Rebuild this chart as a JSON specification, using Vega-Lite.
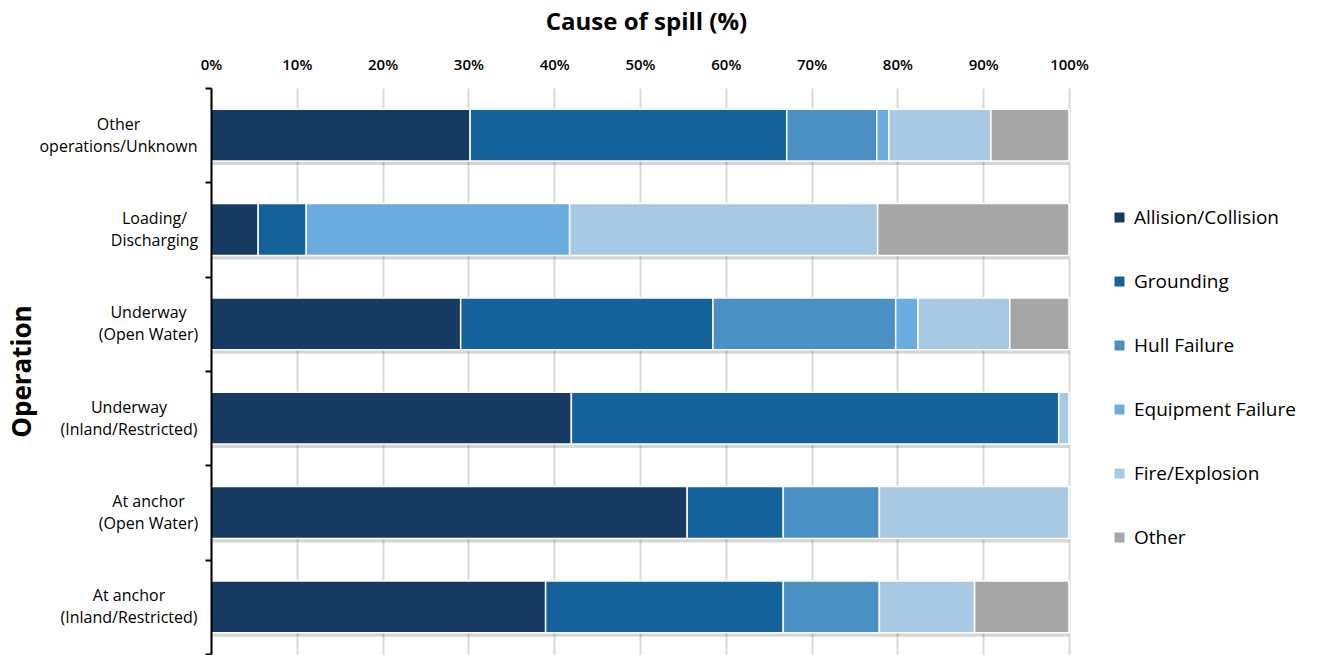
{
  "$schema": "https://vega.github.io/schema/vega-lite/v6.json",
  "width": 858,
  "height": 566,
  "autosize": {"type": "none"},
  "padding": {"left": 211, "top": 88, "right": 250, "bottom": 1},
  "background": "white",
  "config": {
    "view": {"stroke": null},
    "font": "Open Sans"
  },
  "data": {
    "values": [
      {"operation": "Other|operations/Unknown", "cause": "Allision/Collision", "rank": 1, "pct": 30.2},
      {"operation": "Other|operations/Unknown", "cause": "Grounding", "rank": 2, "pct": 36.9},
      {"operation": "Other|operations/Unknown", "cause": "Hull Failure", "rank": 3, "pct": 10.5},
      {"operation": "Other|operations/Unknown", "cause": "Equipment Failure", "rank": 4, "pct": 1.4},
      {"operation": "Other|operations/Unknown", "cause": "Fire/Explosion", "rank": 5, "pct": 11.9},
      {"operation": "Other|operations/Unknown", "cause": "Other", "rank": 6, "pct": 9.1},
      {"operation": "Loading/|Discharging", "cause": "Allision/Collision", "rank": 1, "pct": 5.5},
      {"operation": "Loading/|Discharging", "cause": "Grounding", "rank": 2, "pct": 5.6},
      {"operation": "Loading/|Discharging", "cause": "Equipment Failure", "rank": 4, "pct": 30.7},
      {"operation": "Loading/|Discharging", "cause": "Fire/Explosion", "rank": 5, "pct": 35.9},
      {"operation": "Loading/|Discharging", "cause": "Other", "rank": 6, "pct": 22.3},
      {"operation": "Underway|(Open Water)", "cause": "Allision/Collision", "rank": 1, "pct": 29.1},
      {"operation": "Underway|(Open Water)", "cause": "Grounding", "rank": 2, "pct": 29.4},
      {"operation": "Underway|(Open Water)", "cause": "Hull Failure", "rank": 3, "pct": 21.3},
      {"operation": "Underway|(Open Water)", "cause": "Equipment Failure", "rank": 4, "pct": 2.6},
      {"operation": "Underway|(Open Water)", "cause": "Fire/Explosion", "rank": 5, "pct": 10.7},
      {"operation": "Underway|(Open Water)", "cause": "Other", "rank": 6, "pct": 6.9},
      {"operation": "Underway|(Inland/Restricted)", "cause": "Allision/Collision", "rank": 1, "pct": 42.0},
      {"operation": "Underway|(Inland/Restricted)", "cause": "Grounding", "rank": 2, "pct": 56.8},
      {"operation": "Underway|(Inland/Restricted)", "cause": "Fire/Explosion", "rank": 5, "pct": 1.2},
      {"operation": "At anchor|(Open Water)", "cause": "Allision/Collision", "rank": 1, "pct": 55.5},
      {"operation": "At anchor|(Open Water)", "cause": "Grounding", "rank": 2, "pct": 11.2},
      {"operation": "At anchor|(Open Water)", "cause": "Hull Failure", "rank": 3, "pct": 11.2},
      {"operation": "At anchor|(Open Water)", "cause": "Fire/Explosion", "rank": 5, "pct": 22.1},
      {"operation": "At anchor|(Inland/Restricted)", "cause": "Allision/Collision", "rank": 1, "pct": 39.0},
      {"operation": "At anchor|(Inland/Restricted)", "cause": "Grounding", "rank": 2, "pct": 27.7},
      {"operation": "At anchor|(Inland/Restricted)", "cause": "Hull Failure", "rank": 3, "pct": 11.2},
      {"operation": "At anchor|(Inland/Restricted)", "cause": "Fire/Explosion", "rank": 5, "pct": 11.1},
      {"operation": "At anchor|(Inland/Restricted)", "cause": "Other", "rank": 6, "pct": 11.0}
    ]
  },
  "encoding": {
    "y": {
      "field": "operation",
      "type": "nominal",
      "sort": ["Other|operations/Unknown", "Loading/|Discharging", "Underway|(Open Water)", "Underway|(Inland/Restricted)", "At anchor|(Open Water)", "At anchor|(Inland/Restricted)"],
      "scale": {"paddingInner": 0, "paddingOuter": 0},
      "axis": {
        "zindex": 2,
        "title": "Operation",
        "titleFont": "Open Sans",
        "titleFontSize": 26,
        "titleFontWeight": "bold",
        "titleColor": "#000000",
        "titleAngle": -90,
        "titleX": -189,
        "titleY": 283,
        "titleAlign": "center",
        "titleBaseline": "middle",
        "labelExpr": "split(datum.label, '|')",
        "labelFont": "Open Sans",
        "labelFontSize": 16,
        "labelColor": "#000000",
        "labelAlign": "center",
        "labelBaseline": "middle",
        "labelLineHeight": 22,
        "labelPadding": {"expr": "datum.value === 'Other|operations/Unknown' ? 87 : datum.value === 'Loading/|Discharging' ? 51 : (datum.value === 'Underway|(Open Water)' || datum.value === 'At anchor|(Open Water)') ? 57 : 76.5"},
        "labelOffset": -11,
        "labelLimit": 400,
        "tickBand": "extent",
        "tickColor": "#000000",
        "tickWidth": 2,
        "tickSize": 6,
        "domainColor": "#000000",
        "domainWidth": 2,
        "grid": false
      }
    }
  },
  "layer": [
    {
      "mark": {"type": "bar", "color": "#000000", "opacity": 0.16, "yOffset": 4, "height": {"band": 0.55}},
      "encoding": {
        "x": {"aggregate": "sum", "field": "pct", "type": "quantitative", "scale": {"domain": [0, 100]}}
      }
    },
    {
      "mark": {"type": "bar", "stroke": "#ffffff", "strokeWidth": 1.5, "opacity": 1, "height": {"band": 0.55}},
      "encoding": {
        "x": {
          "field": "pct",
          "type": "quantitative",
          "stack": "zero",
          "scale": {"domain": [0, 100]},
          "axis": {
            "orient": "top",
            "zindex": 0,
            "title": "Cause of spill (%)",
            "titleFont": "Open Sans",
            "titleFontSize": 24,
            "titleFontWeight": "bold",
            "titleColor": "#000000",
            "titleX": 435,
            "titleY": -66,
            "titleBaseline": "middle",
            "values": [0, 10, 20, 30, 40, 50, 60, 70, 80, 90, 100],
            "labelExpr": "datum.value + '%'",
            "labelFont": "Open Sans",
            "labelFontSize": 15,
            "labelFontWeight": 600,
            "labelColor": "#000000",
            "labelPadding": 16,
            "labelFlush": false,
            "ticks": false,
            "domain": false,
            "grid": true,
            "gridColor": "#d9d9d9",
            "gridWidth": 2
          }
        },
        "color": {
          "field": "cause",
          "type": "nominal",
          "sort": ["Allision/Collision", "Grounding", "Hull Failure", "Equipment Failure", "Fire/Explosion", "Other"],
          "scale": {
            "domain": ["Allision/Collision", "Grounding", "Hull Failure", "Equipment Failure", "Fire/Explosion", "Other"],
            "range": ["#173a63", "#13629c", "#4a90c4", "#6aacdf", "#a8c9e4", "#a6a6a6"]
          },
          "legend": {
            "title": null,
            "orient": "none",
            "legendX": 899,
            "legendY": 120,
            "symbolType": "square",
            "symbolSize": 100,
            "symbolStrokeWidth": 0,
            "symbolOpacity": 1,
            "labelFont": "Open Sans",
            "labelFontSize": 19,
            "labelColor": "#000000",
            "labelOffset": 5,
            "rowPadding": 44,
            "labelLimit": 300
          }
        },
        "order": {"field": "rank", "type": "quantitative"}
      }
    }
  ]
}
